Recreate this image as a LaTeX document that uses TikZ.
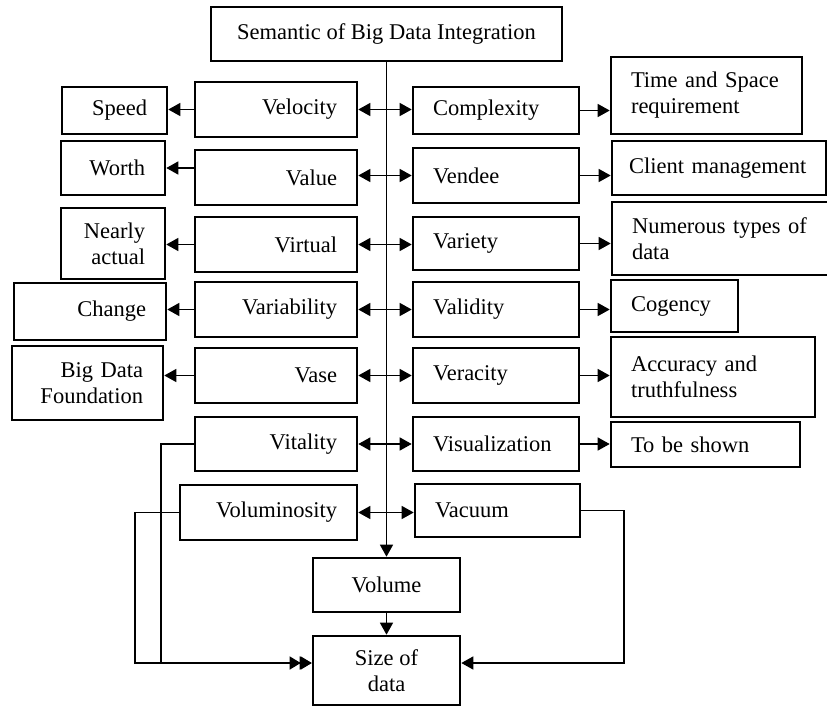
\documentclass[tikz,border=0pt]{standalone}
\usepackage{fontspec}
\setmainfont{Liberation Serif}
\usetikzlibrary{arrows.meta}

\begin{document}
\begin{tikzpicture}[x=1pt, y=-1pt,
    box/.style={
        draw,
        line width=2.6pt,
        inner xsep=20pt,
        inner ysep=0pt,
        font=\fontsize{22.5}{26}\selectfont
    },
    lbox/.style={box, align=right},
    rbox/.style={box, align=left},
    cbox/.style={box, align=center},
    link/.style={line width=1.4pt},
    arr/.style={link, -{Triangle[length=12pt,width=13pt]}},
    darr/.style={link, {Triangle[length=12pt,width=13pt]}-{Triangle[length=12pt,width=13pt]}}
]
\useasboundingbox (0,0) rectangle (827,707);

%%%%%%%%%%%%%%%%%%%%%%%%
% Title
%%%%%%%%%%%%%%%%%%%%%%%%

\node[cbox, minimum width=351pt, minimum height=54pt] (semantic) at (386.5,34) {Semantic of Big Data Integration};

%%%%%%%%%%%%%%%%%%%%%%%%
% Left column
%%%%%%%%%%%%%%%%%%%%%%%%

\node[lbox, text width=122pt, minimum height=55pt] (velocity) at (276,109.5) {Velocity};
\node[lbox, text width=122pt, minimum height=55pt] (value) at (276,177.5) {Value};
\node[lbox, text width=122pt, minimum height=55pt] (virtual) at (276,244.5) {Virtual};
\node[lbox, text width=122pt, minimum height=55pt] (variability) at (276,309.5) {Variability};
\node[lbox, text width=122pt, minimum height=55pt] (vase) at (276,375.5) {Vase};
\node[lbox, text width=122pt, minimum height=54pt] (vitality) at (276,444) {Vitality};
\node[lbox, text width=137pt, minimum height=55pt] (voluminosity) at (268.5,512.5) {Voluminosity};

%%%%%%%%%%%%%%%%%%%%%%%%
% Right column
%%%%%%%%%%%%%%%%%%%%%%%%

\node[rbox, text width=126pt, minimum height=47pt] (complexity) at (496,110.5) {Complexity};
\node[rbox, text width=126pt, minimum height=55pt] (vendee) at (496,175.5) {Vendee};
\node[rbox, text width=126pt, minimum height=53pt] (variety) at (496,243.5) {Variety};
\node[rbox, text width=126pt, minimum height=55pt] (validity) at (496,309.5) {Validity};
\node[rbox, text width=126pt, minimum height=55pt] (veracity) at (496,375.5) {Veracity};
\node[rbox, text width=126pt, minimum height=54pt] (visualization) at (496,444) {Visualization};
\node[rbox, text width=125pt, minimum height=53pt] (vacuum) at (497.5,510.5) {Vacuum};

%%%%%%%%%%%%%%%%%%%%%%%%
% Outer left boxes
%%%%%%%%%%%%%%%%%%%%%%%%

\node[lbox, text width=65pt, minimum height=47pt] (speed) at (114.5,110.5) {Speed};
\node[lbox, text width=64pt, minimum height=54pt] (worth) at (113,168) {Worth};
\node[lbox, text width=64pt, minimum height=71pt] (nearly) at (113,243.5) {Nearly\\actual};
\node[lbox, text width=112pt, minimum height=57pt] (change) at (90,311.5) {Change};
\node[lbox, text width=111pt, minimum height=74pt] (foundation) at (87.5,383) {Big Data\\Foundation};

%%%%%%%%%%%%%%%%%%%%%%%%
% Outer right boxes
%%%%%%%%%%%%%%%%%%%%%%%%

\node[rbox, text width=151pt, minimum height=77pt] (timespace) at (706.5,95.5) {Time and Space\\requirement};
\node[rbox, text width=180pt, inner xsep=17pt, minimum height=54pt] (client) at (719,168) {Client management};
\node[rbox, text width=176pt, minimum height=73pt] (numerous) at (720,238.5) {Numerous types of\\data};
\node[rbox, text width=87pt, minimum height=52pt] (cogency) at (674.5,306) {Cogency};
\node[rbox, text width=164pt, minimum height=80pt] (accuracy) at (713,377) {Accuracy and\\truthfulness};
\node[rbox, text width=149pt, minimum height=45pt] (shown) at (705.5,444.5) {To be shown};

%%%%%%%%%%%%%%%%%%%%%%%%
% Bottom
%%%%%%%%%%%%%%%%%%%%%%%%

\node[cbox, minimum width=147pt, minimum height=54pt] (volume) at (386.5,585) {Volume};
\node[cbox, minimum width=147pt, minimum height=69pt] (size) at (386.5,670.5) {Size of\\data};

\coordinate (vitcorner) at (161,663);
\coordinate (volcorner) at (135,663);
\coordinate (vaccorner) at (624,663);

%%%%%%%%%%%%%%%%%%%%%%%%
% Arrows
%%%%%%%%%%%%%%%%%%%%%%%%

\draw[arr] (semantic) -- (volume);
\draw[arr] (volume) -- (size);

% --- Middle, both ways ---
\draw[darr] (velocity.east) -- (velocity.east -| complexity.west);
\draw[darr] (vendee.west -| value.east) -- (vendee.west);
\draw[darr] (virtual.east) -- (virtual.east -| variety.west);
\draw[darr] (variability.east) -- (validity.west);
\draw[darr] (vase.east) -- (veracity.west);
\draw[darr] (vitality.east) -- (visualization.west);
\draw[darr] (voluminosity.east) -- (voluminosity.east -| vacuum.west);

% --- To the left ---
\draw[arr] (velocity.west) -- (velocity.west -| speed.east);
\draw[arr] (value.west |- worth.east) -- (worth.east);
\draw[arr] (virtual.west) -- (virtual.west -| nearly.east);
\draw[arr] (variability.west) -- (variability.west -| change.east);
\draw[arr] (vase.west) -- (vase.west -| foundation.east);

% --- To the right ---
\draw[arr] (complexity.east) -- (complexity.east -| timespace.west);
\draw[arr] (vendee.east) -- (vendee.east -| client.west);
\draw[arr] (variety.east) -- (variety.east -| numerous.west);
\draw[arr] (validity.east) -- (validity.east -| cogency.west);
\draw[arr] (veracity.east) -- (veracity.east -| accuracy.west);
\draw[arr] (visualization.east) -- (visualization.east -| shown.west);

% --- Into Size of data ---
\draw[arr] (vitality.west) -| (vitcorner) -- (vitcorner -| size.west);
\draw[link, -{Triangle[length=11pt,width=13pt]Triangle[length=11pt,width=13pt]}]
    (voluminosity.west) -| (volcorner) -- (volcorner -| size.west);
\draw[arr] (vacuum.east) -| (vaccorner) -- (vaccorner -| size.east);

\end{tikzpicture}
\end{document}
